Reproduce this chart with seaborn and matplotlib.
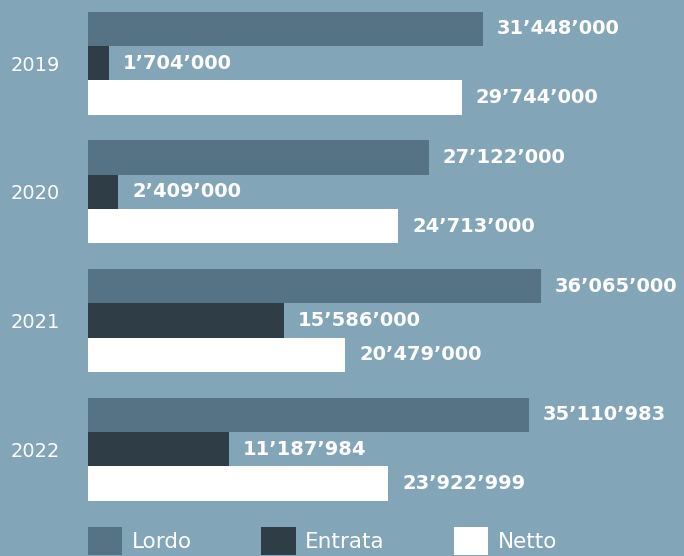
import pandas as pd
import matplotlib
matplotlib.use('Agg')
import matplotlib.pyplot as plt
from matplotlib.patches import Patch
import seaborn as sns

# data
years = ['2019', '2020', '2021', '2022']
series = ['Lordo', 'Entrata', 'Netto']
lordo = [31448000, 27122000, 36065000, 35110983]
entrata = [1704000, 2409000, 15586000, 11187984]
netto = [29744000, 24713000, 20479000, 23922999]

bg = '#82a5b8'
colors = {'Lordo': '#557385', 'Entrata': '#2f3e46', 'Netto': '#ffffff'}

rows = []
for i, y in enumerate(years):
    rows.append((y, 'Lordo', lordo[i]))
    rows.append((y, 'Entrata', entrata[i]))
    rows.append((y, 'Netto', netto[i]))
df = pd.DataFrame(rows, columns=['anno', 'tipo', 'valore'])

sns.set_theme(style='white')
plt.rcParams['font.family'] = ['DejaVu Sans']

fig = plt.figure(figsize=(6.84, 5.56), dpi=100, facecolor=bg)
ax = fig.add_axes([88 / 684, 0, 1 - 88 / 684, 1])
ax.set_facecolor(bg)

sns.barplot(data=df, x='valore', y='anno', hue='tipo', hue_order=series,
            palette=colors, orient='h', width=0.8, ax=ax, legend=False,
            saturation=1, linewidth=0)

fmt = lambda v: f'{v:,}'.replace(',', '\u2019')
for cont, vals in zip(ax.containers, [lordo, entrata, netto]):
    ax.bar_label(cont, labels=[fmt(v) for v in vals], padding=10,
                 color='white', fontsize=14, fontweight='bold')

ax.set_xlim(0, (684 - 88) / 12.56 * 1e6)
ax.set_ylim(3.83, -0.49)
ax.set_xticks([])
ax.set_xlabel('')
ax.set_ylabel('')
ax.tick_params(axis='y', length=0, pad=20, labelsize=14, labelcolor='white')
for s in ax.spines.values():
    s.set_visible(False)

handles = [Patch(facecolor=colors[s], edgecolor='none', label=s) for s in series]
leg = fig.legend(handles=handles, loc='upper left', ncol=3,
                 bbox_to_anchor=(88 / 684, 1 - 527 / 556), frameon=False,
                 borderpad=0, borderaxespad=0, fontsize=15.5,
                 handlelength=1.6, handleheight=1.6, handletextpad=0.45,
                 columnspacing=3.2, labelcolor='white')

fig.savefig('out.png', dpi=100, facecolor=bg)
